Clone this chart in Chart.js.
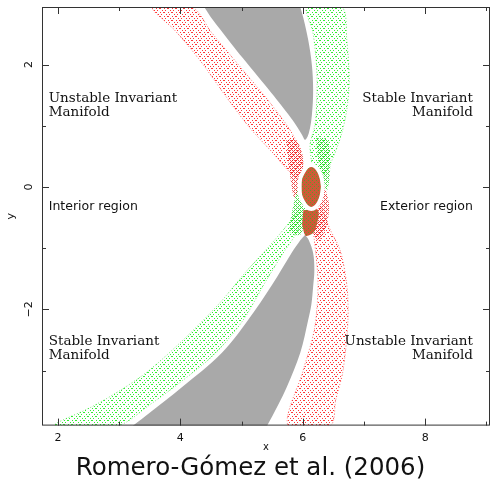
<!DOCTYPE html>
<html><head><meta charset="utf-8">
<script src="https://cdn.jsdelivr.net/npm/chart.js@4/dist/chart.umd.min.js"></script>
<style>html,body{margin:0;padding:0;background:#fff}#wrap{width:491px;height:485px}</style>
</head><body><div id="wrap"><canvas id="c" width="491" height="485"></canvas></div>
<script>
// Axis ranges and labelled ticks
const xRange = [1.74, 9.06];
const yRange = [-3.90, 2.94];
const xTickLabels = [2, 4, 6, 8];
const yTickLabels = [-2, 0, 2];

// Forbidden regions (zero-velocity curves), closed outlines; the ends run just past the frame
const forbiddenUpper = [[4.25,3.15],[4.39,2.94],[4.53,2.73],[4.70,2.51],[4.91,2.24],[5.14,1.96],[5.37,1.68],[5.58,1.42],[5.76,1.19],
  [5.91,0.98],[5.99,0.85],[6.04,0.77],[6.10,0.88],[6.15,1.18],[6.17,1.58],[6.15,1.99],[6.09,2.40],[6.01,2.76],[5.96,2.94],[5.90,3.15]];
const forbiddenLower = [[6.04,-0.78],[6.10,-0.87],[6.17,-1.08],[6.19,-1.36],[6.17,-1.63],[6.14,-1.93],[6.09,-2.17],
  [5.96,-2.71],[5.74,-3.27],[5.60,-3.56],[5.42,-3.90],[5.31,-4.10],
  [2.97,-4.10],[3.23,-3.90],[3.50,-3.69],[4.03,-3.27],[4.68,-2.71],[5.11,-2.17],[5.50,-1.60],[5.83,-1.06],[5.96,-0.87]];

// Invariant manifold tubes, each as one closed outline (one edge, then the other)
const unstableInterior = [[5.96,0.11],[5.79,0.24],[5.50,0.57],[5.14,0.96],[4.73,1.50],[4.32,2.07],[3.91,2.56],[3.54,2.94],
  [4.19,2.94],[4.52,2.51],[4.98,1.96],[5.43,1.42],[5.76,0.98],[5.92,0.69],[6.01,0.36]];
const stableExterior = [[6.15,0.36],[6.12,0.69],[6.20,1.01],[6.23,1.42],[6.23,1.91],[6.17,2.51],[6.07,2.94],
  [6.64,2.94],[6.72,2.40],[6.76,1.75],[6.72,1.26],[6.63,0.85],[6.48,0.44],[6.32,0.15]];
const stableInterior = [[5.96,-0.34],[5.79,-0.57],[5.47,-0.95],[5.07,-1.39],[4.65,-1.89],[4.13,-2.42],[3.50,-2.99],[3.01,-3.33],[2.52,-3.61],[1.95,-3.90],
  [2.98,-3.90],[3.50,-3.56],[3.99,-3.20],[4.55,-2.74],[5.01,-2.20],[5.38,-1.57],[5.68,-1.08],[5.87,-0.80],[5.99,-0.57]];
const unstableExterior = [[6.12,-0.46],[6.19,-0.87],[6.25,-1.60],[6.19,-2.33],[6.01,-2.99],[5.76,-3.90],
  [6.45,-3.90],[6.54,-3.48],[6.66,-2.99],[6.74,-2.17],[6.72,-1.60],[6.61,-1.03],[6.45,-0.70],[6.25,-0.21]];

// Dense windings of the tubes where they meet the periodic orbit
const unstableCoreIn = [[5.73,0.77],[5.89,0.77],[6.01,0.44],[5.92,-0.05],[5.86,-0.18],[5.79,0.20]];
const unstableCoreOut = [[6.35,0.03],[6.43,-0.29],[6.38,-0.67],[6.25,-0.87],[6.12,-0.57],[6.25,-0.38]];
const stableCoreOut = [[6.22,0.80],[6.40,0.77],[6.45,0.36],[6.40,-0.05],[6.32,0.11],[6.25,0.44]];
const stableCoreIn = [[5.92,0.03],[6.01,-0.21],[6.05,-0.46],[5.96,-0.78],[5.79,-0.73],[5.83,-0.38]];
const mixedCore = [[6.01,-0.38],[6.25,-0.38],[6.19,-0.73],[6.05,-0.80],[5.99,-0.62]];

// Planar Lyapunov orbit around L2
const lyapunovOrbit = [[6.33,0.00],[6.31,0.14],[6.27,0.25],[6.21,0.33],[6.14,0.36],[6.07,0.33],[6.01,0.25],[5.96,0.14],
  [5.95,0.00],[5.96,-0.14],[6.01,-0.25],[6.07,-0.33],[6.14,-0.36],[6.21,-0.33],[6.27,-0.25],[6.31,-0.14],[6.33,0.00]];

const toXY = a => a.map(([x, y]) => ({x, y}));

function dotPattern(size, dots, color, bg) {
  const c = document.createElement('canvas');
  c.width = c.height = size;
  const g = c.getContext('2d');
  if (bg) { g.fillStyle = bg; g.fillRect(0, 0, size, size); }
  g.fillStyle = color;
  dots.forEach(([i, j]) => g.fillRect(i, j, 1, 1));
  return g.createPattern(c, 'repeat');
}
// crossing dotted strands
const hatch = [[0,0],[2,2],[4,4],[6,6],[7,0],[5,2],[3,4],[1,6],[4,0],[0,4]];
const denseHatch = [[0,0],[2,2],[3,1],[1,3],[2,0],[0,2]];
const redDots = dotPattern(8, hatch, 'rgba(255,0,0,0.78)');
const greenDots = dotPattern(8, hatch, 'rgba(0,235,0,0.8)');
const redDense = dotPattern(4, denseHatch, 'rgba(235,0,0,0.7)');
const greenDense = dotPattern(4, denseHatch, 'rgba(0,210,0,0.7)');
const mixedDots = dotPattern(4, [[0,0],[2,2]], 'rgba(80,165,40,0.85)', 'rgb(205,90,55)');

function shape(data, fillStyle, extra) {
  return Object.assign({
    data: toXY(data), fill: 'shape', backgroundColor: fillStyle,
    borderWidth: 0, borderColor: 'rgba(0,0,0,0)', pointRadius: 0, tension: 0.3
  }, extra || {});
}
const redEdge = {borderColor: 'rgba(255,0,0,0.55)', borderWidth: 1, borderDash: [1, 2]};
const greenEdge = {borderColor: 'rgba(0,220,0,0.55)', borderWidth: 1, borderDash: [1, 2]};

const grey = '#a9a9a9';
const datasets = [
  shape(lyapunovOrbit, mixedDots, {borderColor: '#ffffff', borderWidth: 4, tension: 0.2}),
  shape(mixedCore, mixedDots),
  shape(unstableCoreIn, redDense),
  shape(unstableCoreOut, redDense),
  shape(stableCoreOut, greenDense),
  shape(stableCoreIn, greenDense),
  shape(unstableInterior, redDots, redEdge),
  shape(stableExterior, greenDots, greenEdge),
  shape(stableInterior, greenDots, greenEdge),
  shape(unstableExterior, redDots, redEdge),
  shape(forbiddenUpper, grey, {tension: 0.35}),
  shape(forbiddenLower, grey, {tension: 0.35})
];

// Region labels, placed in data coordinates (first baseline)
const serif = '13.5px "DejaVu Serif"';
const sans = '12.5px "DejaVu Sans"';
const notes = [
  {lines: ['Unstable Invariant', 'Manifold'], x: 1.85, y: 1.39, align: 'left', font: serif},
  {lines: ['Stable Invariant', 'Manifold'], x: 8.78, y: 1.39, align: 'right', font: serif},
  {lines: ['Stable Invariant', 'Manifold'], x: 1.85, y: -2.58, align: 'left', font: serif},
  {lines: ['Unstable Invariant', 'Manifold'], x: 8.78, y: -2.58, align: 'right', font: serif},
  {lines: ['Interior region'], x: 1.85, y: -0.38, align: 'left', font: sans},
  {lines: ['Exterior region'], x: 8.78, y: -0.38, align: 'right', font: sans}
];

const frameAndNotes = {
  id: 'frameAndNotes',
  afterLayout(chart) {
    if (chart.titleBlock) chart.titleBlock.left = 11;
  },
  afterDatasetsDraw(chart) {
    const {ctx, chartArea: a, scales: {x, y}} = chart;
    ctx.save();
    ctx.strokeStyle = '#333';
    ctx.lineWidth = 1;
    ctx.strokeRect(a.left + 0.5, a.top + 0.5, a.right - a.left - 1, a.bottom - a.top - 1);
    ctx.beginPath();
    for (let v = Math.ceil(xRange[0]); v <= Math.floor(xRange[1]); v++) {
      const px = Math.round(x.getPixelForValue(v)) + 0.5;
      const len = xTickLabels.includes(v) ? 7 : 4;
      ctx.moveTo(px, a.bottom); ctx.lineTo(px, a.bottom - len);
      ctx.moveTo(px, a.top); ctx.lineTo(px, a.top + len);
    }
    for (let v = Math.ceil(yRange[0]); v <= Math.floor(yRange[1]); v++) {
      const py = Math.round(y.getPixelForValue(v)) + 0.5;
      const len = yTickLabels.includes(v) ? 7 : 4;
      ctx.moveTo(a.left, py); ctx.lineTo(a.left + len, py);
      ctx.moveTo(a.right, py); ctx.lineTo(a.right - len, py);
    }
    ctx.stroke();
    ctx.fillStyle = '#111';
    ctx.textBaseline = 'alphabetic';
    notes.forEach(n => {
      ctx.font = n.font;
      ctx.textAlign = n.align;
      const px = x.getPixelForValue(n.x), py = y.getPixelForValue(n.y);
      n.lines.forEach((t, i) => ctx.fillText(t, px, py + i * 14));
    });
    ctx.restore();
  }
};

const signed = v => (v < 0 ? '\u2212' + Math.abs(v) : String(v));
const sansFamily = '"DejaVu Sans", sans-serif';

new Chart(document.getElementById('c'), {
  type: 'line',
  data: {datasets},
  plugins: [frameAndNotes],
  options: {
    responsive: false,
    animation: false,
    events: [],
    layout: {padding: {top: 7, right: 1, left: 0, bottom: 0}},
    plugins: {
      legend: {display: false},
      tooltip: {enabled: false},
      title: {
        display: true, position: 'bottom', text: 'Romero-G\u00f3mez et al. (2006)',
        color: '#111', font: {family: sansFamily, size: 24.5, weight: 'normal'},
        padding: {top: 0, bottom: 2}
      }
    },
    scales: {
      x: {
        type: 'linear', min: xRange[0], max: xRange[1],
        afterFit: s => { s.height = 28; s.paddingLeft = 0; s.paddingRight = 0; },
        grid: {display: false, drawTicks: false}, border: {display: false},
        ticks: {stepSize: 2, includeBounds: false, padding: 6, color: '#111',
          font: {family: sansFamily, size: 11},
          callback: v => (xTickLabels.includes(v) ? signed(v) : '')},
        title: {display: true, text: 'x', color: '#111', padding: 0,
          font: {family: sansFamily, size: 10}}
      },
      y: {
        type: 'linear', min: yRange[0], max: yRange[1],
        afterFit: s => { s.width = 42; s.paddingTop = 0; s.paddingBottom = 0; },
        grid: {display: false, drawTicks: false}, border: {display: false},
        ticks: {stepSize: 2, includeBounds: false, padding: 5, minRotation: 90, maxRotation: 90,
          crossAlign: 'center', color: '#111',
          font: {family: sansFamily, size: 11},
          callback: v => (yTickLabels.includes(v) ? signed(v) : '')},
        title: {display: true, text: 'y', color: '#111', padding: {top: 5, bottom: 0},
          font: {family: sansFamily, size: 11}}
      }
    }
  }
});
</script>
</body></html>
